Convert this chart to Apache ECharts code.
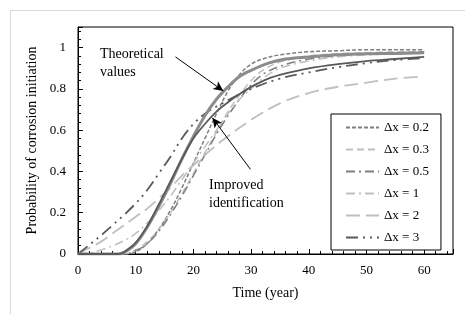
<!DOCTYPE html>
<html>
<head>
<meta charset="utf-8">
<script src="https://cdn.jsdelivr.net/npm/echarts@6/dist/echarts.min.js"></script>
<style>
  html, body { margin: 0; padding: 0; background: #fff; }
  #myChart { width: 465px; height: 314px; }
</style>
</head>
<body>
<div id="myChart"></div>
<script>
// values (time in years, probability)
var t_theory = [0, 7, 8, 10, 12, 14, 16, 18, 20, 22, 24, 26, 28, 30, 33, 36, 40, 45, 50, 55, 60];
var p_theory = [0, 0, 0.008, 0.05, 0.13, 0.23, 0.34, 0.46, 0.57, 0.67, 0.75, 0.81, 0.86, 0.89, 0.925, 0.945, 0.955, 0.965, 0.97, 0.972, 0.975];
var p_improved = [0, 0, 0.01, 0.055, 0.135, 0.24, 0.35, 0.46, 0.56, 0.63, 0.69, 0.735, 0.775, 0.81, 0.85, 0.875, 0.9, 0.92, 0.935, 0.945, 0.955];

var t_fine = [0, 8, 10, 12, 14, 16, 18, 20, 22, 24, 26, 28, 30, 32, 35, 40, 45, 50, 55, 60];
var p_dx02 = [0, 0, 0.01, 0.05, 0.12, 0.21, 0.32, 0.44, 0.56, 0.68, 0.79, 0.87, 0.92, 0.945, 0.965, 0.98, 0.985, 0.99, 0.99, 0.99];
var p_dx03 = [0, 0, 0.02, 0.06, 0.12, 0.20, 0.29, 0.39, 0.49, 0.59, 0.69, 0.77, 0.84, 0.89, 0.93, 0.96, 0.97, 0.975, 0.98, 0.98];
var p_dx05 = [0, 0, 0.015, 0.05, 0.11, 0.19, 0.28, 0.38, 0.48, 0.58, 0.67, 0.75, 0.82, 0.87, 0.91, 0.945, 0.96, 0.97, 0.975, 0.98];

var t_dx1 = [0, 2, 4, 6, 8, 10, 12, 14, 16, 18, 20, 22, 24, 26, 28, 30, 32, 35, 40, 45, 50, 60];
var p_dx1 = [0, 0.005, 0.02, 0.04, 0.065, 0.1, 0.15, 0.21, 0.28, 0.36, 0.44, 0.52, 0.60, 0.68, 0.75, 0.80, 0.85, 0.9, 0.935, 0.955, 0.965, 0.975];

var t_coarse = [0, 2, 4, 6, 8, 10, 12, 14, 16, 18, 20, 22, 25, 30, 35, 40, 45, 50, 55, 60];
var p_dx2 = [0, 0.03, 0.06, 0.10, 0.14, 0.18, 0.22, 0.27, 0.32, 0.38, 0.43, 0.48, 0.55, 0.65, 0.73, 0.78, 0.81, 0.83, 0.85, 0.86];
var p_dx3 = [0, 0.045, 0.09, 0.14, 0.19, 0.245, 0.31, 0.39, 0.47, 0.56, 0.63, 0.68, 0.73, 0.80, 0.85, 0.88, 0.905, 0.925, 0.94, 0.95];

var legend_names = ['\u0394x = 0.2', '\u0394x = 0.3', '\u0394x = 0.5', '\u0394x = 1', '\u0394x = 2', '\u0394x = 3'];

function pairs(xs, ys) {
    var out = [];
    for (var i = 0; i < xs.length; i++) {
        out.push([xs[i], ys[i]]);
    }
    return out;
}

function line_series(name, xs, ys, color, width, dash) {
    return {
        name: name,
        type: 'line',
        smooth: 0.35,
        symbol: 'none',
        silent: true,
        lineStyle: { color: color, width: width, type: dash },
        itemStyle: { color: color },
        data: pairs(xs, ys)
    };
}

var serif = '"Liberation Serif", "DejaVu Serif", serif';

function create_image() {
    var myChart = echarts.init(document.getElementById('myChart'));
    var series = [
        line_series(legend_names[0], t_fine, p_dx02, '#7f7f7f', 1.5, [4, 2]),
        line_series(legend_names[1], t_fine, p_dx03, '#bfbfbf', 1.5, [7, 4]),
        line_series(legend_names[2], t_fine, p_dx05, '#7f7f7f', 1.5, [9, 4, 2, 4]),
        line_series(legend_names[3], t_dx1, p_dx1, '#bfbfbf', 1.5, [9, 4, 2, 4]),
        line_series(legend_names[4], t_coarse, p_dx2, '#bfbfbf', 1.8, [14, 6]),
        line_series(legend_names[5], t_coarse, p_dx3, '#595959', 1.8, [12, 5, 2, 5, 2, 5]),
        line_series('Theoretical values', t_theory, p_theory, '#8c8c8c', 3, 'solid'),
        line_series('Improved identification', t_theory, p_improved, '#595959', 1.8, 'solid')
    ];
    // arrows of the two annotations
    series.push({
        type: 'line',
        data: [],
        silent: true,
        markLine: {
            silent: true,
            symbol: ['none', 'arrow'],
            symbolSize: [7, 10],
            label: { show: false },
            lineStyle: { color: '#000', width: 1, type: 'solid' },
            data: [
                [{ coord: [16.9, 0.955] }, { coord: [25.2, 0.79] }],
                [{ coord: [29.9, 0.41] }, { coord: [23.3, 0.66] }]
            ]
        }
    });

    var option = {
        animation: false,
        backgroundColor: '#fff',
        grid: {
            left: 78,
            top: 27,
            width: 375,
            height: 227,
            show: true,
            borderColor: '#000',
            borderWidth: 1
        },
        legend: {
            data: legend_names,
            orient: 'vertical',
            left: 331,
            top: 114,
            width: 116,
            padding: [7, 12, 6, 14],
            itemWidth: 33,
            itemHeight: 10,
            itemGap: 9,
            itemStyle: { opacity: 0 },
            borderColor: '#000',
            borderWidth: 1,
            backgroundColor: '#fff',
            selectedMode: false,
            textStyle: { fontFamily: serif, fontSize: 13, color: '#000' }
        },
        xAxis: {
            type: 'value',
            min: 0,
            max: 65,
            interval: 10,
            name: 'Time (year)',
            nameLocation: 'middle',
            nameGap: 32,
            nameTextStyle: { fontFamily: serif, fontSize: 14, color: '#000' },
            axisLine: { lineStyle: { color: '#000' } },
            axisTick: { inside: true, length: 5, lineStyle: { color: '#000' } },
            minorTick: { show: true, splitNumber: 5, length: 3, lineStyle: { color: '#000' } },
            splitLine: { show: false },
            axisLabel: {
                fontFamily: serif, fontSize: 13, color: '#000', margin: 10,
                showMaxLabel: false
            }
        },
        yAxis: {
            type: 'value',
            min: 0,
            max: 1.1,
            interval: 0.2,
            name: 'Probability of corrosion initiation',
            nameLocation: 'middle',
            nameGap: 28,
            nameTextStyle: { fontFamily: serif, fontSize: 14, color: '#000' },
            axisLine: { lineStyle: { color: '#000' } },
            axisTick: { inside: true, length: 5, lineStyle: { color: '#000' } },
            minorTick: { show: true, splitNumber: 5, length: 3, lineStyle: { color: '#000' } },
            splitLine: { show: false },
            axisLabel: {
                fontFamily: serif, fontSize: 13, color: '#000', margin: 12,
                showMaxLabel: false
            }
        },
        graphic: [
            {
                type: 'rect',
                silent: true,
                z: -10,
                shape: { x: 10.5, y: 10.5, width: 480, height: 330 },
                style: { fill: 'none', stroke: '#d9d9d9', lineWidth: 1 }
            },
            {
                type: 'text',
                left: 100,
                top: 45,
                style: {
                    text: 'Theoretical\nvalues',
                    font: '14px ' + serif,
                    lineHeight: 18,
                    fill: '#000'
                }
            },
            {
                type: 'text',
                left: 209,
                top: 176,
                style: {
                    text: 'Improved\nidentification',
                    font: '14px ' + serif,
                    lineHeight: 18,
                    fill: '#000'
                }
            }
        ],
        series: series
    };
    myChart.setOption(option);
}

create_image();
</script>
</body>
</html>
